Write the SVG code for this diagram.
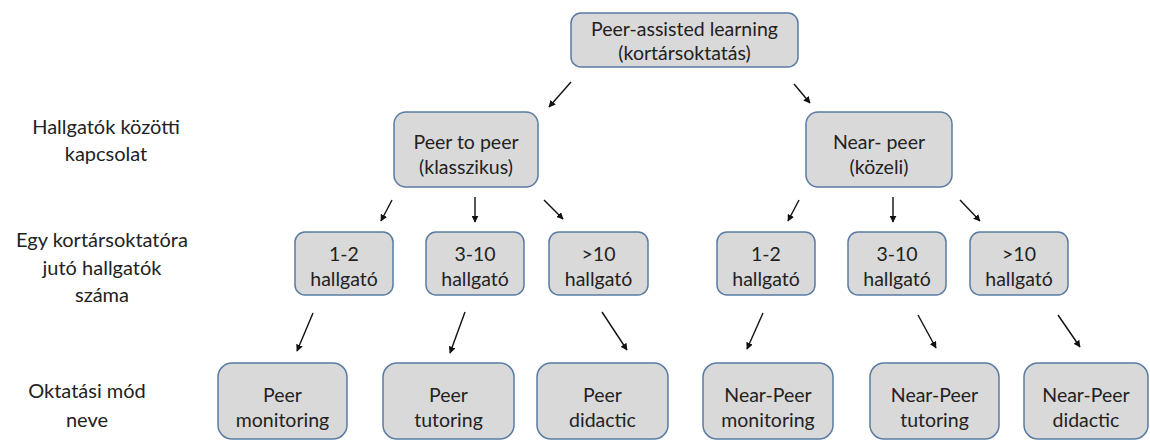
<svg xmlns="http://www.w3.org/2000/svg" width="1150" height="441" viewBox="0 0 1150 441">
<defs>
<marker id="ah" viewBox="0 0 10 10" refX="9" refY="5" markerWidth="7" markerHeight="7" markerUnits="userSpaceOnUse" orient="auto">
<path d="M0,0 L10,5 L0,10 z" fill="#111"/>
</marker>
<style>
.box{fill:#d9d9d9;stroke:#5a7ba3;stroke-width:1.5}
.t{font-family:Lato,"Liberation Sans",sans-serif;font-size:19.5px;fill:#222;text-anchor:middle}
.l{font-size:20px}
.c{stroke:#111;stroke-width:1.4;fill:none;marker-end:url(#ah)}
</style>
</defs>
<rect width="1150" height="441" fill="#fff"/>
<g id="labels">
<text class="t l" x="106" y="134">Hallgatók közötti</text>
<text class="t l" x="106" y="161">kapcsolat</text>
<text class="t l" x="102" y="247">Egy kortársoktatóra</text>
<text class="t l" x="102" y="275">jutó hallgatók</text>
<text class="t l" x="102" y="302">száma</text>
<text class="t l" x="87" y="398">Oktatási mód</text>
<text class="t l" x="87" y="427">neve</text>
</g>
<g id="connectors">
<line class="c" x1="571" y1="82" x2="549" y2="107"/>
<line class="c" x1="794" y1="84" x2="810" y2="103"/>
<line class="c" x1="392" y1="200" x2="381" y2="221"/>
<line class="c" x1="475" y1="197" x2="475" y2="222"/>
<line class="c" x1="544" y1="200" x2="563" y2="219"/>
<line class="c" x1="799" y1="200" x2="788" y2="221"/>
<line class="c" x1="893" y1="197" x2="893" y2="222"/>
<line class="c" x1="960" y1="200" x2="980" y2="221"/>
<line class="c" x1="313" y1="313" x2="297" y2="351"/>
<line class="c" x1="465" y1="312" x2="450" y2="353"/>
<line class="c" x1="602" y1="312" x2="627" y2="350"/>
<line class="c" x1="763" y1="313" x2="747" y2="349"/>
<line class="c" x1="918" y1="315" x2="936" y2="348"/>
<line class="c" x1="1058" y1="315" x2="1080" y2="347"/>
</g>
<g id="n-root"><rect class="box" x="571" y="13" width="227" height="54" rx="10"/><text class="t" x="684.5" y="36">Peer-assisted learning</text><text class="t" x="684.5" y="60">(kortársoktatás)</text></g>
<g id="n-p2p"><rect class="box" x="394" y="112" width="144" height="75" rx="12"/><text class="t" x="466" y="149">Peer to peer</text><text class="t" x="466" y="174">(klasszikus)</text></g>
<g id="n-near"><rect class="box" x="806" y="112" width="146" height="75" rx="12"/><text class="t" x="879" y="149">Near- peer</text><text class="t" x="879" y="174">(közeli)</text></g>
<g id="n-l12"><rect class="box" x="295" y="232" width="98" height="63" rx="10"/><text class="t" x="344" y="261">1-2</text><text class="t" x="344" y="286">hallgató</text></g>
<g id="n-l310"><rect class="box" x="426" y="232" width="98" height="63" rx="10"/><text class="t" x="475" y="261">3-10</text><text class="t" x="475" y="286">hallgató</text></g>
<g id="n-l10"><rect class="box" x="549" y="232" width="99" height="63" rx="10"/><text class="t" x="598.5" y="261">&gt;10</text><text class="t" x="598.5" y="286">hallgató</text></g>
<g id="n-r12"><rect class="box" x="717" y="232" width="98" height="63" rx="10"/><text class="t" x="766" y="261">1-2</text><text class="t" x="766" y="286">hallgató</text></g>
<g id="n-r310"><rect class="box" x="848" y="232" width="98" height="63" rx="10"/><text class="t" x="897" y="261">3-10</text><text class="t" x="897" y="286">hallgató</text></g>
<g id="n-r10"><rect class="box" x="970" y="232" width="98" height="63" rx="10"/><text class="t" x="1019" y="261">&gt;10</text><text class="t" x="1019" y="286">hallgató</text></g>
<g id="n-pm"><rect class="box" x="218" y="363" width="129" height="76" rx="14"/><text class="t" x="282.5" y="402">Peer</text><text class="t" x="282.5" y="427">monitoring</text></g>
<g id="n-pt"><rect class="box" x="383" y="363" width="131" height="76" rx="14"/><text class="t" x="448.5" y="402">Peer</text><text class="t" x="448.5" y="427">tutoring</text></g>
<g id="n-pd"><rect class="box" x="537" y="363" width="131" height="76" rx="14"/><text class="t" x="602.5" y="402">Peer</text><text class="t" x="602.5" y="427">didactic</text></g>
<g id="n-nm"><rect class="box" x="703" y="363" width="130" height="76" rx="14"/><text class="t" x="768" y="402">Near-Peer</text><text class="t" x="768" y="427">monitoring</text></g>
<g id="n-nt"><rect class="box" x="870" y="363" width="129" height="76" rx="14"/><text class="t" x="934.5" y="402">Near-Peer</text><text class="t" x="934.5" y="427">tutoring</text></g>
<g id="n-nd"><rect class="box" x="1024" y="363" width="124" height="76" rx="14"/><text class="t" x="1086" y="402">Near-Peer</text><text class="t" x="1086" y="427">didactic</text></g>
</svg>
